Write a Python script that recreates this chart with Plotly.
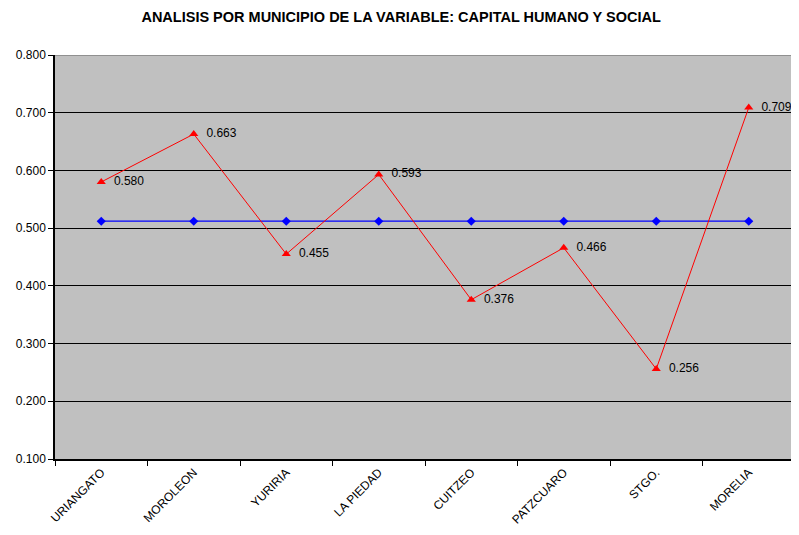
import plotly.graph_objects as go

categories = ["URIANGATO", "MOROLEON", "YURIRIA", "LA PIEDAD", "CUITZEO", "PATZCUARO", "STGO.", "MORELIA"]
values = [0.580, 0.663, 0.455, 0.593, 0.376, 0.466, 0.256, 0.709]
average = [0.512, 0.512, 0.512, 0.512, 0.512, 0.512, 0.512, 0.512]
y_ticks = [0.1, 0.2, 0.3, 0.4, 0.5, 0.6, 0.7, 0.8]

fig = go.Figure()
fig.add_trace(go.Scatter(
    x=categories, y=average, mode="lines+markers",
    line=dict(color="#0000FF", width=1.3),
    marker=dict(symbol="diamond", size=7, color="#0000FF"),
    showlegend=False, cliponaxis=False,
))
fig.add_trace(go.Scatter(
    x=categories, y=values, mode="lines+markers+text",
    line=dict(color="#FF0000", width=1),
    marker=dict(symbol="triangle-up", size=8, color="#FF0000"),
    text=[f"  {v:.3f}" for v in values], textposition="middle right",
    textfont=dict(family="Arial, Liberation Sans", size=12, color="#000000"),
    showlegend=False, cliponaxis=False,
))

fig.add_shape(type="line", xref="paper", yref="y", x0=0, x1=1, y0=0.8, y1=0.8,
              line=dict(color="#808080", width=1.5))

fig.update_layout(
    width=799, height=535,
    margin=dict(l=47, r=12, t=47, b=84),
    paper_bgcolor="white", plot_bgcolor="#C0C0C0",
    font=dict(family="Arial, Liberation Sans", size=12, color="#000000"),
    title=dict(text="<b>ANALISIS POR MUNICIPIO DE LA VARIABLE: CAPITAL HUMANO Y SOCIAL</b>",
               x=0.492, xanchor="center", y=0.984, yanchor="middle",
               font=dict(size=14.5, color="#000000")),
)
fig.update_xaxes(
    type="category", range=[-0.5, 7.5], tickangle=-45, automargin=False,
    ticks="outside", tickson="boundaries", ticklen=5, tickcolor="#000000",
    showline=True, linecolor="#000000", linewidth=1.5, showgrid=False,
    tickfont=dict(size=12), fixedrange=True,
)
fig.update_yaxes(
    range=[0.1, 0.8], tickvals=y_ticks, tickformat=".3f", automargin=False,
    ticks="outside", ticklen=5, tickcolor="#000000",
    showline=True, linecolor="#000000", linewidth=1.5,
    showgrid=True, gridcolor="#000000", gridwidth=1, zeroline=False,
    tickfont=dict(size=12),
)

fig.write_html("out.html")
